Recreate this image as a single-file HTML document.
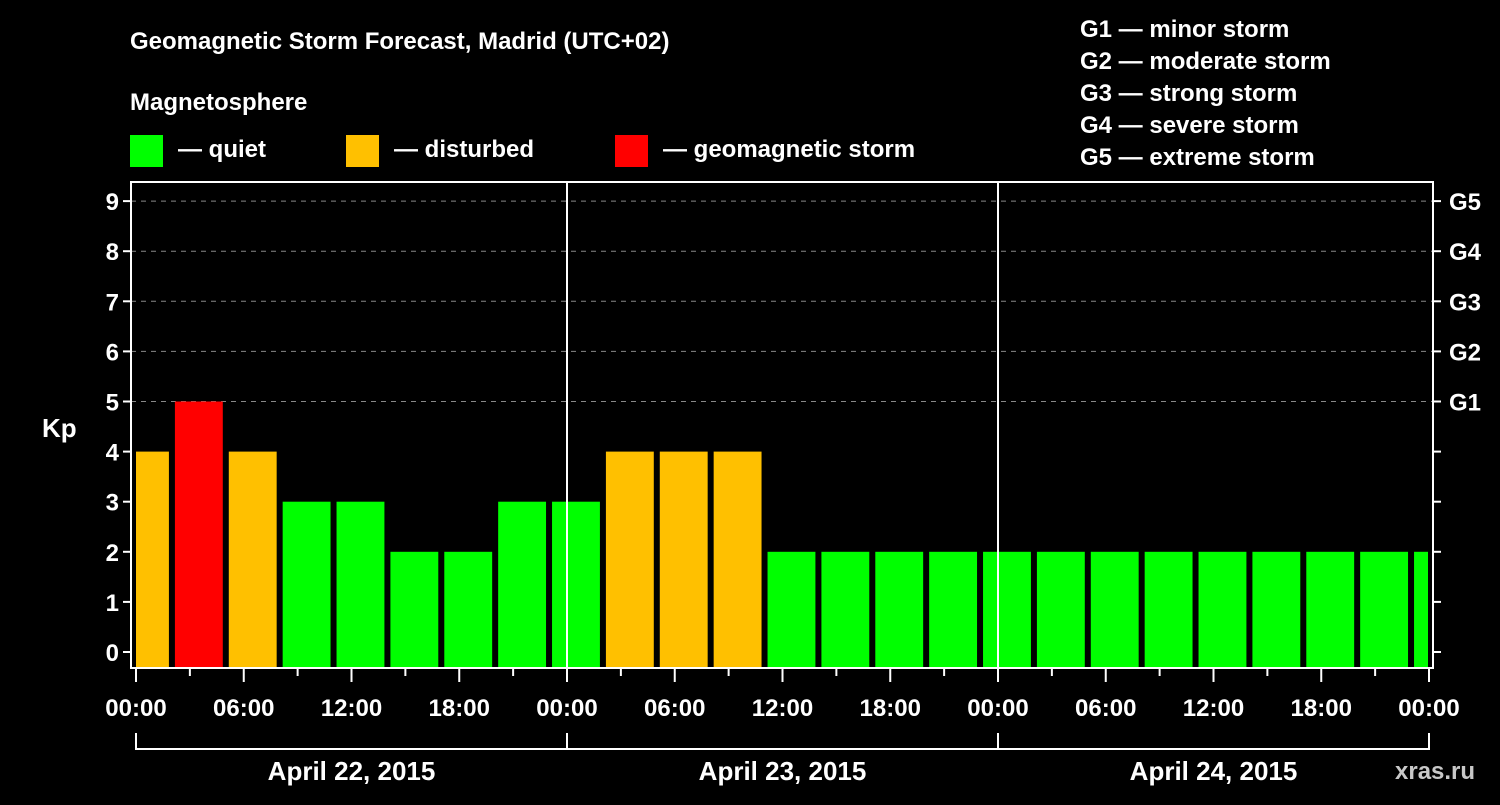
<!DOCTYPE html>
<html><head><meta charset="utf-8"><style>
body{margin:0;background:#000;width:1500px;height:800px;overflow:hidden;font-family:"Liberation Sans",sans-serif;}
svg text{font-family:"Liberation Sans",sans-serif;font-weight:bold;fill:#fff;}
</style></head><body>
<svg id="c" width="1500" height="800" viewBox="0 0 1500 800">
<rect width="1500" height="800" fill="#000"/>
<text x="130" y="49" font-size="24">Geomagnetic Storm Forecast, Madrid (UTC+02)</text>
<text x="130" y="110" font-size="24">Magnetosphere</text>
<g><rect x="130" y="135" width="33" height="32" fill="#00ff00"/><text x="178" y="157" font-size="24">— quiet</text></g>
<g><rect x="346" y="135" width="33" height="32" fill="#ffc000"/><text x="394" y="157" font-size="24">— disturbed</text></g>
<g><rect x="615" y="135" width="33" height="32" fill="#ff0000"/><text x="663" y="157" font-size="24">— geomagnetic storm</text></g>
<g font-size="24">
<text x="1080" y="37">G1 — minor storm</text>
<text x="1080" y="69">G2 — moderate storm</text>
<text x="1080" y="101">G3 — strong storm</text>
<text x="1080" y="133">G4 — severe storm</text>
<text x="1080" y="165">G5 — extreme storm</text>
</g>
<text x="42" y="437" font-size="26">Kp</text>
<text x="1395" y="779" font-size="24" fill="#bbb" style="fill:#c8c8c8">xras.ru</text>
<g id="plot"></g>
</svg>
<script>
const kpValues=[4,5,4,3,3,2,2,3,3,4,4,4,2,2,2,2,2,2,2,2,2,2,2,2,2];
const dayLabels=["April 22, 2015","April 23, 2015","April 24, 2015"];
const yTicks=[0,1,2,3,4,5,6,7,8,9];
const gLabels=["G1","G2","G3","G4","G5"];
const hourLabels=["00:00","06:00","12:00","18:00"];
const X0=136,DAY=431,L=131,R=1433,T=182,B=668;
const NS="http://www.w3.org/2000/svg";
const g=document.getElementById('plot');
function xh(h){return X0+h*DAY/24;}
function yk(k){return 652-k*50.1;}
function el(t,a,p){const e=document.createElementNS(NS,t);for(const k in a)e.setAttribute(k,a[k]);(p||g).appendChild(e);return e;}
function col(k){return k>=5?'#ff0000':k>=4?'#ffc000':'#00ff00';}
// grid
yTicks.forEach(k=>{
 if(k>=5){const l=el('line',{x1:L,x2:R,y1:yk(k),y2:yk(k),stroke:'#888','stroke-dasharray':'5,5','stroke-width':1});
 
 }
 const t=el('line',{x1:L-8,x2:L,y1:yk(k),y2:yk(k),stroke:'#fff','stroke-width':2});
 
 
 const t2=el('line',{x1:R,x2:R+8,y1:yk(k),y2:yk(k),stroke:'#fff','stroke-width':2});
 
 
 const tx=el('text',{x:L-12,y:yk(k)+9,'text-anchor':'end','font-size':24});tx.textContent=k;
 
 
});
gLabels.forEach((s,i)=>{
 const tx=el('text',{x:R+16,y:yk(5+i)+9,'font-size':24});tx.textContent=s;
 
 
});
// bars
kpValues.forEach((k,i)=>{
 let x1=xh(i*3-1)+3,x2=xh(i*3+2)-3;
 x1=Math.max(x1,X0);x2=Math.min(x2,xh(72)-1);
 const r=el('rect',{x:x1,y:yk(k),width:x2-x1,height:B-yk(k),fill:col(k)});
 
 
});
// day dividers
[1,2].forEach(d=>{
 const l=el('line',{x1:xh(d*24),x2:xh(d*24),y1:T,y2:B,stroke:'#fff','stroke-width':2});
 
 
});
// frame
const f=el('rect',{x:L,y:T,width:R-L,height:B-T,fill:'none',stroke:'#fff','stroke-width':2});


// x ticks
for(let h=0;h<=72;h+=3){
 const major=h%6==0;
 const l=el('line',{x1:xh(h),x2:xh(h),y1:B,y2:B+(major?14:8),stroke:'#fff','stroke-width':2});
 
 
 if(major){const tx=el('text',{x:xh(h),y:716,'text-anchor':'middle','font-size':24});tx.textContent=hourLabels[(h/6)%4];
 
 }
}
// day brackets
dayLabels.forEach((s,d)=>{
 const a=xh(d*24),b=xh(d*24+24);
 const p=el('path',{d:`M${a},733V749H${b}V733`,stroke:'#fff','stroke-width':2,fill:'none'});
 
 
 const tx=el('text',{x:(a+b)/2,y:780,'text-anchor':'middle','font-size':26});tx.textContent=s;
 
 
});
</script>
</body></html>
